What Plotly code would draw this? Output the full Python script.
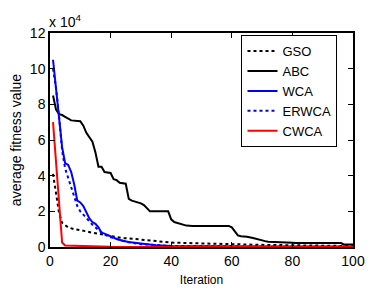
import plotly.graph_objects as go

# values in units of 1e4
gso_x = [1, 2, 3, 4, 5, 6, 8, 10, 12, 14, 17, 20, 24, 28, 33, 40, 50, 60, 70, 80, 90, 100]
gso_y = [4.1, 2.9, 1.9, 1.35, 1.2, 1.1, 1.0, 0.95, 0.88, 0.8, 0.7, 0.6, 0.5, 0.45, 0.35, 0.25, 0.2, 0.15, 0.12, 0.1, 0.07, 0.05]

abc_x = [1, 2, 3, 4, 5, 6, 7, 10, 11, 12, 13, 14, 15, 16, 17, 18, 20, 21, 22, 23, 25, 26, 27, 28, 29, 30, 31, 32, 33,
         39, 40, 41, 43, 45, 47, 59, 60, 61, 62, 63, 65, 67, 68, 70, 71, 72, 79, 80, 81, 96, 97, 100]
abc_y = [8.5, 7.7, 7.45, 7.4, 7.3, 7.2, 7.1, 7.05, 6.8, 6.4, 6.15, 5.9, 5.3, 4.5, 4.5, 4.2, 4.15, 3.8, 3.75, 3.6, 3.55, 2.7, 2.6, 2.55, 2.5, 2.45, 2.35, 2.2, 2.0,
         2.0, 1.55, 1.4, 1.3, 1.2, 1.18, 1.18, 1.1, 0.9, 0.65, 0.6, 0.58, 0.5, 0.45, 0.38, 0.33, 0.3, 0.28, 0.24, 0.22, 0.22, 0.14, 0.14]

wca_x = [1, 2, 3, 4, 5, 6, 7, 8, 9, 10, 11, 12, 13, 14, 15, 16, 17, 18, 20, 22, 24, 26, 30, 35, 40, 50, 60, 80, 100]
wca_y = [10.5, 8.8, 7.2, 5.6, 4.7, 4.6, 4.2, 3.5, 2.6, 2.5, 2.3, 1.9, 1.6, 1.4, 1.3, 1.1, 0.8, 0.75, 0.6, 0.45, 0.35, 0.28, 0.2, 0.1, 0.06, 0.04, 0.03, 0.02, 0.02]

erwca_x = [1, 2, 3, 4, 5, 6, 7, 8, 9, 10, 12, 14, 16, 18, 20, 25, 30, 35, 40, 50, 60, 80, 100]
erwca_y = [10.0, 8.9, 7.3, 5.4, 4.4, 3.9, 3.4, 2.8, 2.3, 2.0, 1.6, 1.25, 0.95, 0.7, 0.55, 0.3, 0.16, 0.1, 0.06, 0.04, 0.03, 0.02, 0.02]

cwca_x = [1, 2, 3, 4, 5, 8, 14, 15, 20, 40, 60, 80, 100]
cwca_y = [7.0, 4.8, 2.3, 0.25, 0.08, 0.06, 0.05, 0.02, 0.01, 0.0, 0.0, 0.0, 0.0]

x_ticks = [0, 20, 40, 60, 80, 100]
y_ticks = [0, 2, 4, 6, 8, 10, 12]

FONT = "Arial, Liberation Sans, sans-serif"

fig = go.Figure()
fig.add_trace(go.Scatter(x=gso_x, y=gso_y, name="GSO", mode="lines",
                         line=dict(color="black", width=2, dash="dot")))
fig.add_trace(go.Scatter(x=abc_x, y=abc_y, name="ABC", mode="lines",
                         line=dict(color="black", width=2)))
fig.add_trace(go.Scatter(x=wca_x, y=wca_y, name="WCA", mode="lines",
                         line=dict(color="#0000ff", width=2)))
fig.add_trace(go.Scatter(x=erwca_x, y=erwca_y, name="ERWCA", mode="lines",
                         line=dict(color="#0000ff", width=2, dash="dot")))
fig.add_trace(go.Scatter(x=cwca_x, y=cwca_y, name="CWCA", mode="lines",
                         line=dict(color="#ff0000", width=2)))

axis_common = dict(showgrid=False, zeroline=False, showline=True, linecolor="black", linewidth=1.5,
                   mirror="ticks", ticks="inside", ticklen=5, tickcolor="black", automargin=False,
                   tickfont=dict(family=FONT, size=14, color="black"))

fig.update_xaxes(range=[0, 100], tickvals=x_ticks, title=dict(text="Iteration", standoff=8,
                 font=dict(family=FONT, size=12, color="black")), **axis_common)
fig.update_yaxes(range=[0, 12], tickvals=y_ticks, title=dict(text="average fitness value", standoff=6,
                 font=dict(family=FONT, size=14, color="black")), **axis_common)

fig.add_annotation(text="x 10<sup>4</sup>", xref="paper", yref="paper", x=0, y=1.0,
                   xanchor="left", yanchor="bottom", showarrow=False, yshift=1, xshift=-3,
                   font=dict(family=FONT, size=14, color="black"))

# page body adds an 8px offset; margins compensate
fig.update_layout(
    width=383, height=293,
    margin=dict(l=42, r=38, t=25, b=54),
    paper_bgcolor="white", plot_bgcolor="white",
    showlegend=True,
    legend=dict(x=0.632, y=0.99, xanchor="left", yanchor="top",
                bgcolor="white", bordercolor="black", borderwidth=1,
                font=dict(family=FONT, size=13, color="black"),
                tracegroupgap=0),
)

fig.write_html("out.html")
